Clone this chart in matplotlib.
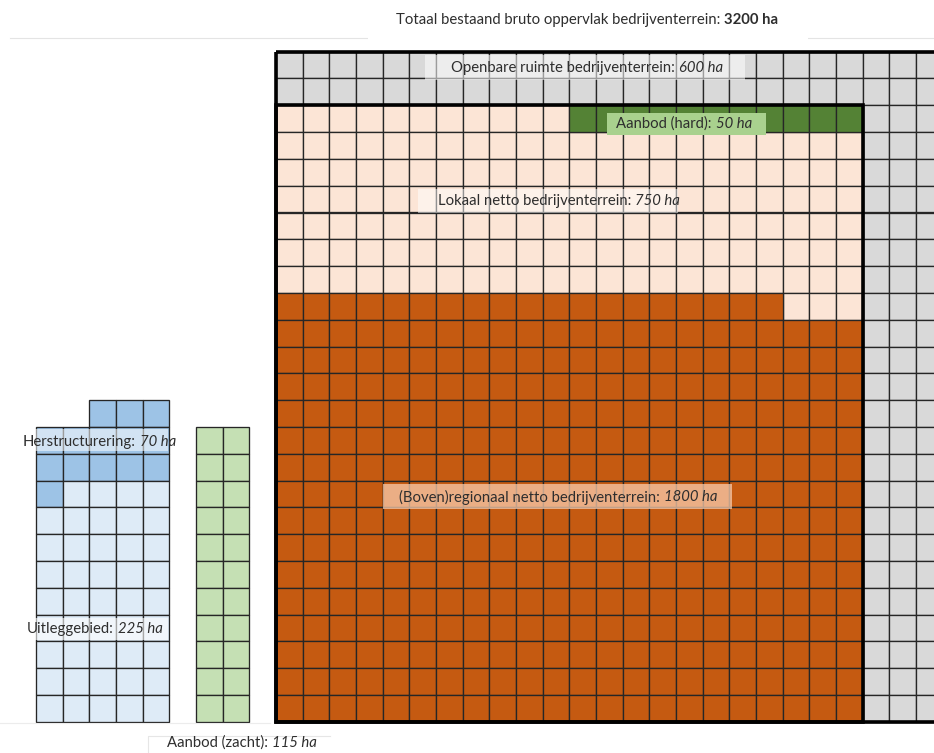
import matplotlib.pyplot as plt
import numpy as np
from matplotlib.patches import Rectangle

plt.rcParams["font.family"] = ["Lato", "DejaVu Sans"]

# each cell is 5 ha; letters give the category of each cell
# S = openbare ruimte, P = lokaal netto, D = aanbod (hard), O = (boven)regionaal netto
main_rows = [
    "SSSSSSSSSSSSSSSSSSSSSSSSS",
    "SSSSSSSSSSSSSSSSSSSSSSSSS",
    "PPPPPPPPPPPDDDDDDDDDDDSSS",
    "PPPPPPPPPPPPPPPPPPPPPPSSS",
    "PPPPPPPPPPPPPPPPPPPPPPSSS",
    "PPPPPPPPPPPPPPPPPPPPPPSSS",
    "PPPPPPPPPPPPPPPPPPPPPPSSS",
    "PPPPPPPPPPPPPPPPPPPPPPSSS",
    "PPPPPPPPPPPPPPPPPPPPPPSSS",
    "OOOOOOOOOOOOOOOOOOOPPPSSS",
] + ["OOOOOOOOOOOOOOOOOOOOOOSSS"] * 15

# H = herstructurering, L = uitleggebied, Z = aanbod (zacht), . = empty
left_rows = [
    "..HHH...",
    "HHHHH.ZZ",
    "HHHHH.ZZ",
    "HLLLL.ZZ",
] + ["LLLLL.ZZ"] * 8
left_first_row = 13
left_first_col = -9

categories = ["S", "P", "D", "O", "H", "L", "Z"]
colors = ["#d9d9d9", "#fce5d6", "#548235", "#c55a11", "#9dc3e6", "#deebf7", "#c5e0b4"]

title_regular = "Totaal bestaand bruto oppervlak bedrijventerrein:"
title_bold = "3200 ha"

# (regular part, italic part)
labels = {
    "openbaar": ("Openbare ruimte bedrijventerrein:", "600 ha"),
    "hard": ("Aanbod (hard):", "50 ha"),
    "lokaal": ("Lokaal netto bedrijventerrein:", "750 ha"),
    "regionaal": ("(Boven)regionaal netto bedrijventerrein:", "1800 ha"),
    "herstructurering": ("Herstructurering:", "70 ha"),
    "uitleg": ("Uitleggebied:", "225 ha"),
    "zacht": ("Aanbod (zacht):", "115 ha"),
}

# reference pixel -> cell units
X0, Y0, CW, CH = 276.0, 51.7, 26.67, 26.8
W, H = 934, 753
TEXT = "#2e2e2e"
FS = 10.7


def cx(px):
    return (px - X0) / CW


def cy(py):
    return (py - Y0) / CH


def draw_grid(ax, rows, first_col, first_row):
    for cat, color in zip(categories, colors):
        xs, ys = [], []
        for i, row in enumerate(rows):
            for j, ch in enumerate(row):
                if ch == cat:
                    xs.append(first_col + j)
                    ys.append(first_row + i)
        if xs:
            ax.bar(xs, 1, bottom=ys, width=1, align="edge", color=color,
                   edgecolor="#262626", linewidth=0.95, zorder=1)


def box(ax, x1, y1, x2, y2, color, alpha):
    ax.add_patch(Rectangle((cx(x1), cy(y1)), cx(x2) - cx(x1), cy(y2) - cy(y1),
                           facecolor=color, alpha=alpha, edgecolor="none", zorder=3))


def label(ax, key, x_split, x_gap, y, size=FS):
    reg, ital = labels[key]
    ax.text(cx(x_split), cy(y), reg, ha="right", va="center", fontsize=size,
            color=TEXT, zorder=4)
    ax.text(cx(x_split + x_gap), cy(y), ital, ha="left", va="center", fontsize=size,
            style="italic", color=TEXT, zorder=4)


def main():
    fig = plt.figure(figsize=(W / 100, H / 100), dpi=100)
    ax = fig.add_axes([0, 0, 1, 1])
    ax.set_xlim(cx(0), cx(W))
    ax.set_ylim(cy(H), cy(0))
    ax.axis("off")

    draw_grid(ax, main_rows, 0, 0)
    draw_grid(ax, left_rows, left_first_col, left_first_row)

    # heavy borders
    n = len(main_rows)
    ax.add_patch(Rectangle((0, 0), len(main_rows[0]), n, fill=False,
                           edgecolor="black", linewidth=2.6, zorder=2))
    inner_w = main_rows[2].index("S")
    ax.add_patch(Rectangle((0, 2), inner_w, n - 2, fill=False,
                           edgecolor="black", linewidth=2.6, zorder=2))

    # title with faint rule
    ax.plot([cx(10), cx(W)], [cy(38), cy(38)], color="#e4e4e4", linewidth=0.8)
    box(ax, 368, 0, 808, 40, "white", 1.0)
    ax.text(cx(720), cy(20), title_regular, ha="right", va="center", fontsize=FS,
            color=TEXT, zorder=4)
    ax.text(cx(724), cy(20), title_bold, ha="left", va="center", fontsize=FS,
            weight="bold", color=TEXT, zorder=4)

    box(ax, 425, 55, 745, 80, "white", 0.55)
    label(ax, "openbaar", 675, 4, 68)

    box(ax, 607, 113, 766, 135, "#a9d18e", 1.0)
    label(ax, "hard", 712, 4, 124)

    box(ax, 418, 189, 678, 213, "white", 0.5)
    label(ax, "lokaal", 631, 4, 201)

    box(ax, 383, 484, 732, 509, "#f8cbad", 0.75)
    label(ax, "regionaal", 660, 4, 497)

    box(ax, 35, 429, 168, 451, "white", 0.55)
    label(ax, "herstructurering", 136, 4, 442)

    box(ax, 35, 618, 168, 640, "white", 0.6)
    label(ax, "uitleg", 114, 4, 629)

    # faint outlines near the bottom
    ax.plot([cx(0), cx(270)], [cy(723), cy(723)], color="#ececec", linewidth=0.8)
    ax.plot([cx(148), cx(148), cx(330)], [cy(H), cy(736), cy(736)],
            color="#e6e6e6", linewidth=0.8)
    label(ax, "zacht", 268, 4, 743)

    fig.savefig("out.png", dpi=100)


if __name__ == "__main__":
    main()
